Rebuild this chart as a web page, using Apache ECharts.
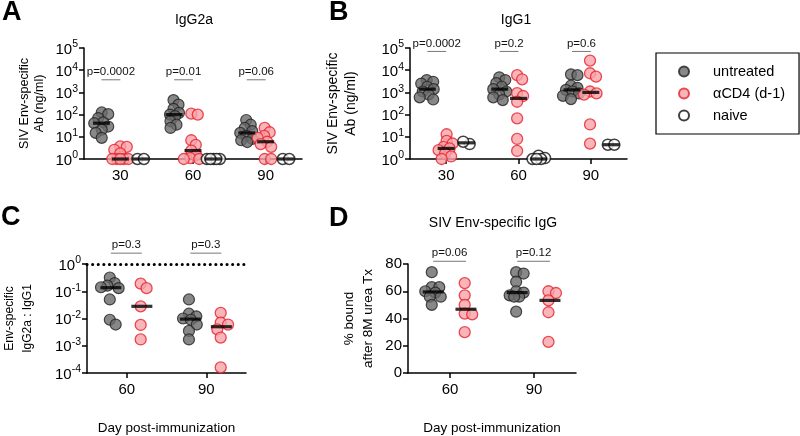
<!DOCTYPE html>
<html><head><meta charset="utf-8">
<script src="https://cdn.jsdelivr.net/npm/echarts@6/dist/echarts.min.js"></script>
<style>html,body{margin:0;padding:0;background:#fff}#c{width:800px;height:436px}</style>
</head><body><div id="c"></div>
<script>
// ---------------- data ----------------
const daysAB = ['30', '60', '90'];
const daysCD = ['60', '90'];
const groupNames = ['untreated', 'αCD4 (d-1)', 'naive'];

// Panel A: IgG2a (ng/ml); one inner list per day
const igg2aUntreated = [[125, 105, 70, 45, 41, 29, 21, 15, 9], [450, 280, 180, 120, 100, 85, 50, 35, 25], [57, 35, 25, 18, 15, 11, 8, 7, 5.8]];
const igg2aCD4 = [[3.7, 3.5, 2.6, 1.8, 1, 1, 1, 1, 1], [110, 100, 7, 4.3, 2.4, 1.5, 1.1, 1, 1], [25, 16, 11, 9, 6, 4.7, 3.5, 1, 1]];
const igg2aNaive = [[1, 1], [1, 1, 1, 1, 1], [1, 1]];
const igg2aP = ['p=0.0002', 'p=0.01', 'p=0.06'];

// Panel B: IgG1 (ng/ml)
const igg1Untreated = [[3600, 3000, 2500, 1800, 1400, 1100, 800, 600, 480], [4800, 3600, 2600, 1800, 1400, 1100, 800, 600, 450], [6500, 6000, 2000, 1600, 1300, 1100, 900, 700, 500]];
const igg1CD4 = [[13, 6.5, 5, 3.5, 3, 2.5, 1.8, 1.3, 1], [6000, 3900, 920, 690, 380, 68, 8, 2.3], [27000, 7300, 5100, 1100, 900, 800, 36, 4.9]];
const igg1Naive = [[4.7, 6], [1.4, 1.1, 1, 1, 1], [4.4, 4.4]];
const igg1P = ['p=0.0002', 'p=0.2', 'p=0.6'];

// Panel C: IgG2a : IgG1 ratio
const ratioUntreated = [[0.32, 0.2, 0.16, 0.14, 0.13, 0.05, 0.009, 0.006], [0.05, 0.015, 0.012, 0.01, 0.009, 0.006, 0.0035, 0.0017]];
const ratioCD4 = [[0.19, 0.13, 0.028, 0.0058, 0.0017], [0.016, 0.007, 0.006, 0.004, 0.002, 0.00016]];
const ratioP = ['p=0.3', 'p=0.3'];

// Panel D: % bound after 8M urea
const boundUntreated = [[74, 63, 63, 60, 59, 56, 56, 50], [74, 73, 67, 60, 59, 57, 56, 56, 45]];
const boundCD4 = [[66, 57, 50, 43.6, 43, 30], [60, 58.7, 53.3, 44.6, 22.8]];
const boundP = ['p=0.06', 'p=0.12'];

// ---------------- layout / style ----------------
const FONT = '"Liberation Sans", Arial, Helvetica, sans-serif';
const GRIDS = [
  { left: 84, top: 48, width: 218, height: 111 },
  { left: 410, top: 48, width: 217, height: 111 },
  { left: 84, top: 264, width: 162, height: 110 },
  { left: 408, top: 264, width: 168, height: 110 }
];
const STYLES = [
  { color: '#6a6a6a', borderColor: '#222', borderWidth: 1.2 },
  { color: '#f9a2a9', borderColor: '#e3222b', borderWidth: 1.3 },
  { color: '#ffffff', borderColor: '#111', borderWidth: 1.5 }
];

function median(a) {
  const s = a.slice().sort((x, y) => x - y), n = s.length;
  return n % 2 ? s[(n - 1) / 2] : (s[n / 2 - 1] + s[n / 2]) / 2;
}
// deterministic beeswarm spread (pixel space)
function swarm(vals, toPx, minD, maxHalf) {
  const order = vals.map((v, i) => i).sort((a, b) => toPx(vals[a]) - toPx(vals[b]));
  const placed = [], off = new Array(vals.length).fill(0);
  const cands = [];
  for (let c = -maxHalf; c <= maxHalf + 1e-9; c += 0.5) cands.push(c);
  cands.sort((a, b) => Math.abs(a) - Math.abs(b) || b - a);
  for (const i of order) {
    const y = toPx(vals[i]);
    let pick = null, bestC = 0, bestD = -1;
    for (const c of cands) {
      let md = Infinity;
      for (const p of placed) md = Math.min(md, Math.hypot(p.x - c, p.y - y));
      if (md >= minD) { pick = c; break; }
      if (md > bestD) { bestD = md; bestC = c; }
    }
    if (pick === null) pick = bestC;
    off[i] = pick;
    placed.push({ x: pick, y });
  }
  const m = off.reduce((a, b) => a + b, 0) / off.length;
  return off.map(o => o - m);
}

const series = [];
function buildPanel(gi, groups, cats, groupOff, toPx, minD, maxHalf, pvals, pLevel, barW) {
  const unitPx = GRIDS[gi].width / cats.length;
  const med = [];
  groups.forEach((grp, k) => {
    if (!grp) return;
    const data = [];
    grp.forEach((vals, ci) => {
      const offs = swarm(vals, toPx, minD, maxHalf);
      vals.forEach((v, j) => data.push([ci + 1 + groupOff[k] + offs[j] / unitPx, v]));
      med.push([ci + 1 + groupOff[k], median(vals)]);
    });
    series.push({ type: 'scatter', name: groupNames[k], xAxisIndex: gi, yAxisIndex: gi, data,
      symbol: 'circle', symbolSize: 11, itemStyle: STYLES[k], z: 2 + k, silent: true });
  });
  const medSeries = { type: 'scatter', xAxisIndex: gi, yAxisIndex: gi, data: med, symbol: 'rect',
    symbolSize: [barW, 3.2], itemStyle: { color: '#000' }, z: 10, silent: true };
  series.push(medSeries);
  series.push({
    type: 'custom', xAxisIndex: gi, yAxisIndex: gi, clip: false, silent: true, z: 10,
    data: cats.map((c, i) => [i + 1, pLevel]),
    renderItem: (params, api) => {
      const c = api.value(0), lv = api.value(1);
      const p1 = api.coord([c + groupOff[0], lv]), p2 = api.coord([c + groupOff[1], lv]);
      return { type: 'group', children: [
        { type: 'line', shape: { x1: p1[0], y1: p1[1], x2: p2[0], y2: p2[1] }, style: { stroke: '#777', lineWidth: 1 } },
        { type: 'text', x: (p1[0] + p2[0]) / 2, y: p1[1] - 2,
          style: { text: pvals[params.dataIndex], align: 'center', verticalAlign: 'bottom', fontSize: 11.5, fontFamily: FONT, fill: '#111' } }
      ] };
    }
  });
  return medSeries;
}

const pxAB = v => (5 - Math.log10(v)) * 111 / 5;
const pxC = v => (-Math.log10(v)) * 110 / 4;
const pxD = v => (80 - v) * 110 / 80;
buildPanel(0, [igg2aUntreated, igg2aCD4, igg2aNaive], daysAB, [-0.26, 0, 0.28], pxAB, 6.5, 8, igg2aP, 3700, 17);
buildPanel(1, [igg1Untreated, igg1CD4, igg1Naive], daysAB, [-0.26, 0, 0.28], pxAB, 6.5, 8, igg1P, 70000, 17);
const medC = buildPanel(2, [ratioUntreated, ratioCD4, null], daysCD, [-0.2, 0.19], pxC, 7.5, 9, ratioP, 2.5, 21);
buildPanel(3, [boundUntreated, boundCD4, null], daysCD, [-0.2, 0.19], pxD, 7.5, 9, boundP, 82, 21);
medC.markLine = { silent: true, symbol: 'none', label: { show: false },
  lineStyle: { color: '#000', type: [0.1, 5.5], width: 3, cap: 'round' }, data: [{ yAxis: 1 }] };

const axisLineStyle = { color: '#000', width: 1.5 };
const supRich = {
  b: { fontSize: 15, fontFamily: FONT, color: '#000', lineHeight: 18, verticalAlign: 'bottom' },
  s: { fontSize: 10.5, fontFamily: FONT, color: '#000', lineHeight: 10, verticalAlign: 'top' }
};
function xAxis(gi, cats, extra) {
  return Object.assign({
    gridIndex: gi, type: 'value', min: 0.5, max: cats.length + 0.5,
    axisLine: { show: true, onZero: false, lineStyle: axisLineStyle },
    axisTick: { show: true, length: 5, lineStyle: axisLineStyle, customValues: cats.map((c, i) => i + 1) },
    axisLabel: { customValues: cats.map((c, i) => i + 1), formatter: v => cats[Math.round(v) - 1],
      fontSize: 15, fontFamily: FONT, color: '#000', margin: 9 },
    splitLine: { show: false }
  }, extra || {});
}
function logY(gi, min, max, name, nameGap, nameSize, nameLH) {
  return {
    gridIndex: gi, type: 'log', logBase: 10, min, max,
    axisLine: { show: true, lineStyle: axisLineStyle },
    axisTick: { show: true, length: 5, lineStyle: axisLineStyle },
    minorTick: { show: false }, splitLine: { show: false },
    axisLabel: { margin: 6, formatter: v => '{b|10}{s|' + Math.round(Math.log10(v)) + '}', rich: supRich },
    name, nameLocation: 'middle', nameGap,
    nameTextStyle: { fontSize: nameSize, lineHeight: nameLH, fontFamily: FONT, color: '#000' }
  };
}
const xName = { name: 'Day post-immunization', nameLocation: 'middle', nameGap: 48,
  nameTextStyle: { fontSize: 13.5, fontFamily: FONT, color: '#000' } };

const option = {
  animation: false,
  backgroundColor: '#fff',
  textStyle: { fontFamily: FONT },
  grid: GRIDS.map(g => Object.assign({ containLabel: false }, g)),
  xAxis: [xAxis(0, daysAB), xAxis(1, daysAB), xAxis(2, daysCD, xName), xAxis(3, daysCD, xName)],
  yAxis: [
    logY(0, 1, 100000, 'SIV Env-specific\nAb (ng/ml)', 37, 12.5, 15),
    logY(1, 1, 100000, 'SIV Env-specific\nAb (ng/ml)', 50, 14, 18),
    logY(2, 0.0001, 1, 'Env-specific\nIgG2a : IgG1', 50, 12, 18),
    {
      gridIndex: 3, type: 'value', min: 0, max: 80, interval: 20,
      axisLine: { show: true, lineStyle: axisLineStyle },
      axisTick: { show: true, length: 5, lineStyle: axisLineStyle },
      splitLine: { show: false },
      axisLabel: { margin: 6, fontSize: 15, fontFamily: FONT, color: '#000' },
      name: '% bound\nafter 8M urea Tx', nameLocation: 'middle', nameGap: 30,
      nameTextStyle: { fontSize: 13.5, lineHeight: 19, fontFamily: FONT, color: '#000' }
    }
  ],
  legend: {
    orient: 'vertical', left: 656, top: 53, selectedMode: false,
    data: groupNames, icon: 'circle', itemWidth: 10, itemHeight: 10, itemGap: 7,
    borderColor: '#000', borderWidth: 1.2, padding: [11, 14, 11, 22],
    textStyle: { fontSize: 14.5, fontFamily: FONT, color: '#000', padding: [0, 0, 0, 19] }
  },
  graphic: [
    { type: 'text', x: 2, y: -1, style: { text: 'A', fontSize: 27, fontWeight: 'bold', fontFamily: FONT, fill: '#000' } },
    { type: 'text', x: 329, y: -1, style: { text: 'B', fontSize: 27, fontWeight: 'bold', fontFamily: FONT, fill: '#000' } },
    { type: 'text', x: 1, y: 204, style: { text: 'C', fontSize: 27, fontWeight: 'bold', fontFamily: FONT, fill: '#000' } },
    { type: 'text', x: 329, y: 205, style: { text: 'D', fontSize: 27, fontWeight: 'bold', fontFamily: FONT, fill: '#000' } },
    { type: 'text', x: 194, y: 20, style: { text: 'IgG2a', fontSize: 14, fontFamily: FONT, fill: '#000', align: 'center', verticalAlign: 'middle' } },
    { type: 'text', x: 516, y: 20, style: { text: 'IgG1', fontSize: 14, fontFamily: FONT, fill: '#000', align: 'center', verticalAlign: 'middle' } },
    { type: 'text', x: 493, y: 223, style: { text: 'SIV Env-specific IgG', fontSize: 14, fontFamily: FONT, fill: '#000', align: 'center', verticalAlign: 'middle' } }
  ],
  series
};
const chart = echarts.init(document.getElementById('c'), null, { renderer: 'canvas' });
chart.setOption(option);
</script>
</body></html>
